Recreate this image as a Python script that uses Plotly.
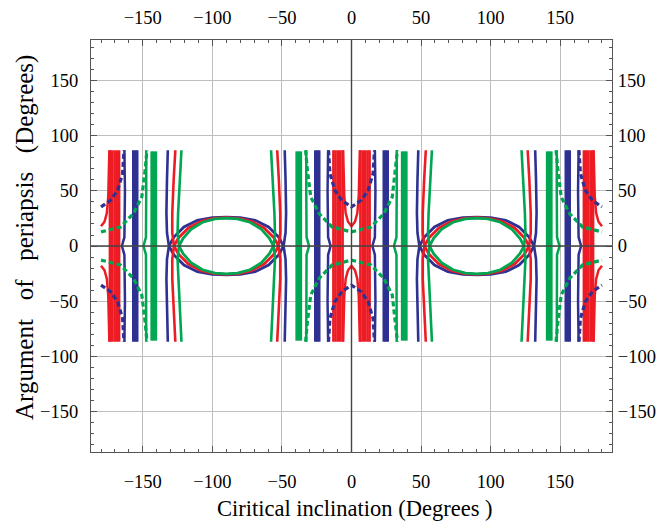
import plotly.graph_objects as go

# ---------------- data (degrees) ----------------
# Families centred on inclination 0 and +-180 deg; offsets d from the centre, upper half (w >= 0)
POLE_CENTERS = [-180, 0, 180]
LENS_CENTERS = [-90, 90]

RED_BAND_D = [6.4, 8.1, 9.8, 11.5, 13.0]
RED_BAND_W = [0, 87]
BLUE_BAND_D = [23.2, 24.6, 26.0]
BLUE_BAND_W = [0, 87]
GREEN_BAND_D = [36.4, 37.9, 39.4]
GREEN_BAND_W = [0, 86]

BLUE_THIN_D = [15.0, 16.8, 17.2, 16.8]
BLUE_THIN_W = [0, 8, 50, 87]
GREEN_THIN_D = [30.5, 32.3, 32.5, 32.5]
GREEN_THIN_W = [0, 8, 50, 87]

RED_ARC_D = [0, 2.5, 4.2, 5.2, 6.0]
RED_ARC_W = [18, 22, 30, 45, 87]
BLUE_ARC_D = [0, 7, 12, 15.5, 16.5]
BLUE_ARC_W = [35.5, 41.6, 50.7, 66, 87]
GREEN_ARC_D = [0, 14, 23.3, 29.3, 31.7, 33]
GREEN_ARC_W = [12.8, 17.3, 29.5, 44.6, 69, 87]

# Lens families centred on +-90 deg; offsets e from the centre, from the tip (w = 0) to the top
BLUE_LENS_E = [41.2, 37.6, 30.4, 20.8, 10, 0]
BLUE_LENS_W = [0, 8.2, 17.3, 23.4, 25.8, 26.3]
RED_LENS_E = [37.6, 34.2, 27.2, 18.0, 9, 0]
RED_LENS_W = [0, 7.6, 16.4, 22.4, 25.0, 25.8]
GREEN_LENS_E = [34.0, 31.0, 25.0, 17.0, 8, 0]
GREEN_LENS_W = [0, 7.0, 15.5, 21.6, 24.6, 25.4]

# Branches leaving the lens tips
BLUE_BRANCH_E = [41.2, 42.6, 43.0, 42.6, 42.0]
RED_BRANCH_E = [37.6, 38.8, 38.8, 37.8, 36.6]
GREEN_BRANCH_E = [34.0, 35.0, 34.6, 33.4, 32.2]
BRANCH_W = [0, 12, 30, 60, 87]

X_TICKS = [-150, -100, -50, 0, 50, 100, 150]
Y_TICKS = [-150, -100, -50, 0, 50, 100, 150]
AX_RANGE = [-187.2, 187.2]

RED = "#ED1C24"
BLUE = "#2E3192"
GREEN = "#00A651"
FONT = "Liberation Serif"


# ---------------- helpers ----------------
def append(X, Y, xs, ys):
    pts = [(x, y) for x, y in zip(xs, ys) if abs(x) <= 180.001]
    if len(pts) < 2:
        return
    X.extend(p[0] for p in pts)
    Y.extend(p[1] for p in pts)
    X.append(None)
    Y.append(None)


def through_axis(ds, ws):
    d = list(reversed(ds)) + list(ds[1:])
    w = [-v for v in reversed(ws)] + list(ws[1:])
    return d, w


def vertical_family(offsets, ws, centers):
    X, Y = [], []
    for c in centers:
        for side in (-1, 1):
            for off in offsets:
                d, w = through_axis([off] * len(ws), ws)
                append(X, Y, [c + side * v for v in d], w)
    return X, Y


def curve_family(ds, ws, centers):
    X, Y = [], []
    d, w = through_axis(ds, ws)
    for c in centers:
        for side in (-1, 1):
            append(X, Y, [c + side * v for v in d], w)
    return X, Y


def arc_family(ds, ws, centers):
    X, Y = [], []
    d = [-v for v in reversed(ds)] + list(ds[1:])
    w = list(reversed(ws)) + list(ws[1:])
    for c in centers:
        for flip in (1, -1):
            append(X, Y, [c + v for v in d], [flip * v for v in w])
    return X, Y


def lens_family(es, ws, centers):
    X, Y = [], []
    e = [-v for v in es] + list(reversed(es))[1:]
    w = list(ws) + list(reversed(ws))[1:]
    for c in centers:
        for flip in (1, -1):
            append(X, Y, [c + v for v in e], [flip * v for v in w])
    return X, Y


fig = go.Figure()


def add(xy, color, width, dash="solid"):
    fig.add_trace(go.Scatter(x=xy[0], y=xy[1], mode="lines",
                             line=dict(color=color, width=width, dash=dash),
                             hoverinfo="skip", showlegend=False))


add(vertical_family(RED_BAND_D, RED_BAND_W, POLE_CENTERS), RED, 2.6)
add(vertical_family(BLUE_BAND_D, BLUE_BAND_W, POLE_CENTERS), BLUE, 2.6)
add(vertical_family(GREEN_BAND_D, GREEN_BAND_W, POLE_CENTERS), GREEN, 2.6)
add(curve_family(BLUE_THIN_D, BLUE_THIN_W, POLE_CENTERS), BLUE, 2.5)
add(curve_family(GREEN_THIN_D, GREEN_THIN_W, POLE_CENTERS), GREEN, 2.5)
add(arc_family(RED_ARC_D, RED_ARC_W, POLE_CENTERS), RED, 2.5)

add(lens_family(BLUE_LENS_E, BLUE_LENS_W, LENS_CENTERS), BLUE, 2.8)
add(lens_family(RED_LENS_E, RED_LENS_W, LENS_CENTERS), RED, 2.8)
add(lens_family(GREEN_LENS_E, GREEN_LENS_W, LENS_CENTERS), GREEN, 2.8)
add(curve_family(BLUE_BRANCH_E, BRANCH_W, LENS_CENTERS), BLUE, 2.6)
add(curve_family(RED_BRANCH_E, BRANCH_W, LENS_CENTERS), RED, 2.6)
add(curve_family(GREEN_BRANCH_E, BRANCH_W, LENS_CENTERS), GREEN, 2.6)

add(arc_family(BLUE_ARC_D, BLUE_ARC_W, POLE_CENTERS), BLUE, 3.2, "5px,3px")
add(arc_family(GREEN_ARC_D, GREEN_ARC_W, POLE_CENTERS), GREEN, 3.2, "5px,3px")

# invisible trace to carry the mirrored top/right axes
fig.add_trace(go.Scatter(x=[0], y=[0], xaxis="x2", yaxis="y2", mode="markers",
                         marker=dict(opacity=0), hoverinfo="skip", showlegend=False))

tickfont = dict(family=FONT, size=18.5, color="black")
common = dict(range=AX_RANGE, showline=True, linecolor="#555555", linewidth=1.2,
              ticks="inside", ticklen=6, tickcolor="#555555", tickwidth=1,
              minor=dict(ticks="inside", ticklen=3, dtick=10, tick0=0, tickcolor="#555555",
                         showgrid=False),
              tickfont=tickfont, zeroline=False, automargin=False)

fig.update_layout(
    width=657, height=526,
    margin=dict(l=91, r=45, t=40, b=74),
    paper_bgcolor="white", plot_bgcolor="white",
    xaxis=dict(tickvals=X_TICKS, showgrid=True, gridcolor="#BDBDBD", gridwidth=1.3,
               ticklabelstandoff=13, **common),
    yaxis=dict(tickvals=Y_TICKS, showgrid=True, gridcolor="#BDBDBD", gridwidth=1.3,
               ticklabelstandoff=8, **common),
    xaxis2=dict(tickvals=X_TICKS, overlaying="x", side="top", showgrid=False,
                ticklabelstandoff=8, **common),
    yaxis2=dict(tickvals=Y_TICKS, overlaying="y", side="right", showgrid=False,
                ticklabelstandoff=1, **common),
    shapes=[
        dict(type="line", xref="x", yref="paper", x0=0, x1=0, y0=0, y1=1,
             line=dict(color="#444444", width=1.4), layer="above"),
        dict(type="line", xref="paper", yref="y", x0=0, x1=1, y0=0, y1=0,
             line=dict(color="#444444", width=1.4), layer="above"),
    ],
    annotations=[
        dict(text="Ciritical inclination (Degrees )", xref="paper", yref="paper",
             x=0.5, y=0, yanchor="middle", yshift=-56, xshift=3, showarrow=False,
             font=dict(family=FONT, size=22.5, color="black")),
        dict(text="Argument   of   periapsis   (Degrees)", xref="paper", yref="paper",
             x=0, y=0.5, xanchor="center", xshift=-66, yshift=8, textangle=-90,
             showarrow=False, font=dict(family=FONT, size=25, color="black")),
    ],
)

fig.write_html("out.html")
